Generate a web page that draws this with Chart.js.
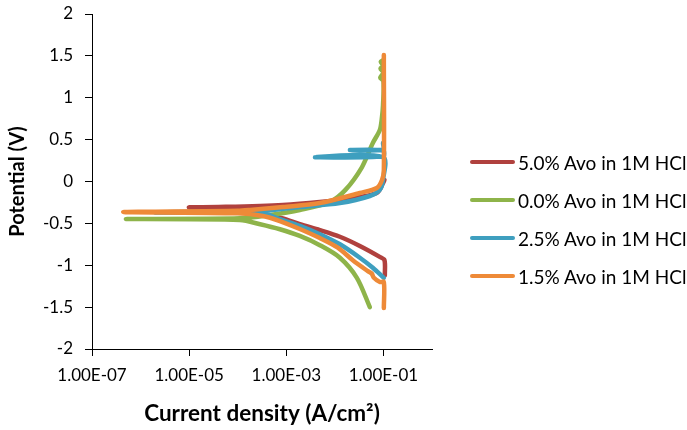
<!DOCTYPE html>
<html>
<head>
<meta charset="utf-8">
<script src="https://cdn.jsdelivr.net/npm/chart.js@4.4.1/dist/chart.umd.min.js"></script>
<style>
    html, body { margin: 0; padding: 0; background: #fff; }
    #wrap { position: relative; width: 687px; height: 430px; }
    #legend { position: absolute; left: 470px; top: 143px; font-family: Lato, sans-serif; font-size: 19px; color: #000; }
    #legend .item { display: flex; align-items: center; height: 38px; white-space: nowrap; }
    #legend .swatch { width: 45px; height: 4px; border-radius: 2px; margin-right: 3px; }
</style>
</head>
<body>
<div id="wrap">
    <canvas id="tafel"></canvas>
    <div id="legend"></div>
</div>
<script>
// Series names, in legend order
const seriesNames = ['5.0% Avo in 1M HCl', '0.0% Avo in 1M HCl', '2.5% Avo in 1M HCl', '1.5% Avo in 1M HCl'];
const seriesColors = ['#B0413E', '#8EB44A', '#3E9FBF', '#EE8A38'];

// Current density (A/cm2) and potential (V), cathodic end first
const current50 = [0.107, 0.105, 0.084, 0.0327, 0.0127, 0.0049, 0.0019, 0.00085, 0.00036, 0.00018, 0.00001, 0.00004, 0.00085, 0.0049, 0.0204, 0.073, 0.098, 0.105];
const potential50 = [-1.12, -0.94, -0.90, -0.77, -0.66, -0.58, -0.51, -0.44, -0.39, -0.35, -0.31, -0.305, -0.28, -0.245, -0.20, -0.137, -0.02, 0.02];

const current00 = [0.0525, 0.0284, 0.0127, 0.0049, 0.0019, 0.00074, 0.00029, 0.00011, 0.0000005, 0.00011, 0.00046, 0.0019, 0.0079, 0.0165, 0.036, 0.0605, 0.0843, 0.093, 0.098, 0.1, 0.086, 0.1, 0.087, 0.1, 0.088, 0.1];
const potential00 = [-1.50, -1.15, -0.91, -0.76, -0.65, -0.57, -0.51, -0.46, -0.448, -0.44, -0.40, -0.34, -0.245, -0.10, 0.17, 0.46, 0.615, 0.76, 0.91, 1.2, 1.24, 1.3, 1.35, 1.38, 1.43, 1.45];

const current25 = [0.102, 0.0605, 0.0327, 0.0127, 0.0049, 0.0019, 0.00074, 0.00032, 0.000002, 0.00032, 0.0019, 0.0127, 0.0525, 0.084, 0.098, 0.098, 0.0039, 0.098, 0.098, 0.0204, 0.098, 0.098];
const potential25 = [-1.15, -1.03, -0.91, -0.75, -0.63, -0.53, -0.45, -0.38, -0.37, -0.35, -0.305, -0.257, -0.173, -0.10, 0.02, 0.29, 0.29, 0.30, 0.37, 0.375, 0.38, 0.46];

const current15 = [0.102, 0.102, 0.0843, 0.0636, 0.0575, 0.0478, 0.0234, 0.0115, 0.0049, 0.0019, 0.00074, 0.00033, 0.0001, 0.00000044, 0.0001, 0.00018, 0.00085, 0.0049, 0.0327, 0.073, 0.0935, 0.102, 0.102];
const potential15 = [-1.51, -1.20, -1.20, -1.15, -1.10, -1.07, -0.94, -0.79, -0.675, -0.567, -0.472, -0.412, -0.38, -0.365, -0.35, -0.34, -0.305, -0.257, -0.137, -0.078, 0.018, 0.137, 1.51];

// Axis ticks
const xTicks = [1e-7, 1e-5, 1e-3, 1e-1];
const yTicks = [-2, -1.5, -1, -0.5, 0, 0.5, 1, 1.5, 2];

const currents = [current50, current00, current25, current15];
const potentials = [potential50, potential00, potential25, potential15];

function toPoints(xs, ys) {
    return xs.map((x, i) => ({ x: x, y: ys[i] }));
}

// Excel-style 1.00E-07 labels
function sciLabel(v) {
    const e = Math.round(Math.log10(v));
    const m = (v / Math.pow(10, e)).toFixed(2);
    return m + 'E' + (e < 0 ? '-' : '+') + String(Math.abs(e)).padStart(2, '0');
}

// last series on top, as in the original
const datasets = seriesNames.map((name, k) => ({
    label: name,
    data: toPoints(currents[k], potentials[k]),
    borderColor: seriesColors[k],
    backgroundColor: seriesColors[k],
    borderWidth: 4.5,
    pointRadius: 0,
    showLine: true,
    tension: 0.3,
    borderJoinStyle: 'round',
    borderCapStyle: 'round',
    order: seriesNames.length - 1 - k,
}));

const tickFont = { family: 'Lato, sans-serif', size: 17 };

const ctx = document.getElementById('tafel').getContext('2d');
new Chart(ctx, {
    type: 'scatter',
    data: { datasets: datasets },
    options: {
        responsive: true,
        maintainAspectRatio: false,
        animation: false,
        layout: { padding: { top: 14, right: 255, left: 0, bottom: 0 } },
        plugins: {
            legend: { display: false },
            tooltip: { enabled: false },
        },
        scales: {
            x: {
                type: 'logarithmic',
                min: 1e-7,
                max: 1,
                afterBuildTicks: (scale) => {
                    scale.ticks = xTicks.map((v) => ({ value: v }));
                },
                afterFit: (scale) => {
                    scale.height = 81;
                    scale.paddingLeft = 0;
                    scale.paddingRight = 0;
                },
                ticks: {
                    color: '#000',
                    font: tickFont,
                    padding: 9,
                    maxRotation: 0,
                    autoSkip: false,
                    callback: (v) => sciLabel(v),
                },
                grid: { drawOnChartArea: false, drawTicks: true, tickLength: 7, color: '#000' },
                border: { display: true, color: '#000', width: 1 },
                title: {
                    display: true,
                    text: 'Current density (A/cm²)',
                    color: '#000',
                    font: { family: 'Lato, sans-serif', size: 22.5, weight: 'bold' },
                    padding: { top: 0, bottom: 3 },
                },
            },
            y: {
                type: 'linear',
                min: -2,
                max: 2,
                afterBuildTicks: (scale) => {
                    scale.ticks = yTicks.map((v) => ({ value: v }));
                },
                afterFit: (scale) => {
                    scale.width = 92;
                    scale.paddingTop = 0;
                    scale.paddingBottom = 0;
                },
                ticks: {
                    color: '#000',
                    font: tickFont,
                    padding: 12,
                    callback: (v) => String(v),
                },
                grid: { drawOnChartArea: false, drawTicks: true, tickLength: 7, color: '#000' },
                border: { display: true, color: '#000', width: 1 },
                title: {
                    display: true,
                    text: 'Potential (V)',
                    color: '#000',
                    font: { family: 'Lato, sans-serif', size: 20, weight: 'bold' },
                    padding: { top: 6, bottom: 0 },
                },
            },
        },
    },
});

// HTML legend built from the series arrays
const legendEl = document.getElementById('legend');
seriesNames.forEach((name, k) => {
    const row = document.createElement('div');
    row.className = 'item';
    const sw = document.createElement('span');
    sw.className = 'swatch';
    sw.style.background = seriesColors[k];
    const txt = document.createElement('span');
    txt.textContent = name;
    row.appendChild(sw);
    row.appendChild(txt);
    legendEl.appendChild(row);
});
</script>
</body>
</html>
